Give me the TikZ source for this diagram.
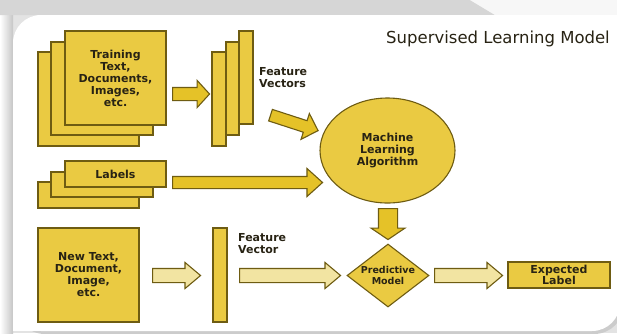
\documentclass[tikz,border=0pt]{standalone}
\usepackage{fontspec}
\setmainfont{DejaVu Sans}
\usetikzlibrary{shapes.geometric,shapes.arrows}
\definecolor{boxfill}{RGB}{234,202,66}
\definecolor{arrfill}{RGB}{229,194,40}
\definecolor{lightfill}{RGB}{242,228,162}
\definecolor{edgecol}{RGB}{110,92,18}
\definecolor{txt}{RGB}{40,35,20}
\begin{document}
\begin{tikzpicture}[x=1pt,y=-1pt,
  box/.style={draw=edgecol, fill=boxfill, line width=1.1pt, rectangle, inner sep=0pt,
    align=center, text=txt, font=\bfseries\fontsize{11}{12}\selectfont},
  lbl/.style={inner sep=0pt, align=left, text=txt, font=\bfseries\fontsize{11}{12}\selectfont},
  barrow/.style={single arrow, draw=edgecol, line width=1.1pt, inner sep=0pt,
    anchor=tail, single arrow head indent=0pt},
  darkarrow/.style={barrow, fill=arrfill},
  lightarrow/.style={barrow, fill=lightfill, minimum height=#1, inner ysep=6.5pt,
    single arrow head extend=6pt, single arrow tip angle=80},
]
\useasboundingbox (0,0) rectangle (617,333);
% background
\fill[gray!22] (0,0) rectangle (617,333);
\shade[left color=white, right color=gray!45] (0,15) rectangle (13,333);
\fill[gray!32] (0,0) -- (470,0) -- (495,15) -- (0,15) -- cycle;
\fill[gray!6] (470,0) -- (617,0) -- (617,15) -- (495,15) -- cycle;
\fill[gray!40, rounded corners=30] (15,17) rectangle (624,334);
\fill[white, rounded corners=28] (13,15) rectangle (620,331);
\fill[white] (13,290) rectangle (80,331);
\fill[white] (540,15) rectangle (617,60);

% title
\node[anchor=base east, inner sep=0pt, text=txt, font=\fontsize{16.5}{18}\selectfont] (title) at (610,43) {Supervised Learning Model};

% training stack
\node[box, minimum width=101pt, minimum height=94pt] (tr3) at (88.5,99) {};
\node[box, minimum width=102pt, minimum height=93pt] (tr2) at (102,88.5) {};
\node[box, minimum width=101pt, minimum height=94pt] (tr1) at (115.5,78) {Training\\Text,\\Documents,\\Images,\\etc.};

% feature vectors
\node[box, minimum width=14pt, minimum height=93pt] (fv3) at (246,77.5) {};
\node[box, minimum width=13pt, minimum height=93pt] (fv2) at (232.5,88.5) {};
\node[box, minimum width=14pt, minimum height=94pt] (fv1) at (219,99) {};
\node[lbl, anchor=west] (fvl) at (259,78) {Feature\\Vectors};

% labels stack
\node[box, minimum width=101pt, minimum height=26pt] (lb3) at (88.5,195) {};
\node[box, minimum width=102pt, minimum height=25pt] (lb2) at (102,184.5) {};
\node[box, minimum width=101pt, minimum height=26pt] (lb1) at (115.5,174) {Labels};

% machine learning algorithm
\node[box, ellipse, minimum width=135pt, minimum height=105pt] (mla) at (387.5,150.5) {Machine\\Learning\\Algorithm};

% new input
\node[box, minimum width=101pt, minimum height=94pt] (new) at (88.5,275) {New Text,\\Document,\\Image,\\etc.};
\node[box, minimum width=14pt, minimum height=94pt] (fvn) at (220,275) {};
\node[lbl, anchor=west] (fvnl) at (238,244) {Feature\\Vector};

% predictive model
\node[box, diamond, aspect=1.3, minimum width=82pt, minimum height=63pt,
  font=\bfseries\fontsize{9.5}{10.5}\selectfont] (pm) at (388,275.5) {Predictive\\Model};

% expected label
\node[box, minimum width=102pt, minimum height=26pt,
  font=\bfseries\fontsize{11}{11}\selectfont] (el) at (559,275) {Expected\\Label};

% arrows
\node[darkarrow, minimum height=37pt, inner ysep=6pt, single arrow head extend=7pt,
  single arrow tip angle=95] (a1) at (172,94) {};
\node[darkarrow, rotate=-18, minimum height=50pt, inner ysep=5.5pt, single arrow head extend=7.5pt,
  single arrow tip angle=90] (a2) at (270,115) {};
\node[darkarrow, minimum height=150pt, inner ysep=5.5pt, single arrow head extend=8pt,
  single arrow tip angle=84] (a3) at (172,182.5) {};
\node[darkarrow, rotate=-90, minimum height=31pt, inner ysep=9pt, single arrow head extend=7.5pt,
  single arrow tip angle=112] (a4) at (388,208) {};
\node[lightarrow=48pt] (a5) at (152,275.5) {};
\node[lightarrow=101pt] (a6) at (239,275.5) {};
\node[lightarrow=68pt] (a7) at (434,275.5) {};
\end{tikzpicture}
\end{document}
